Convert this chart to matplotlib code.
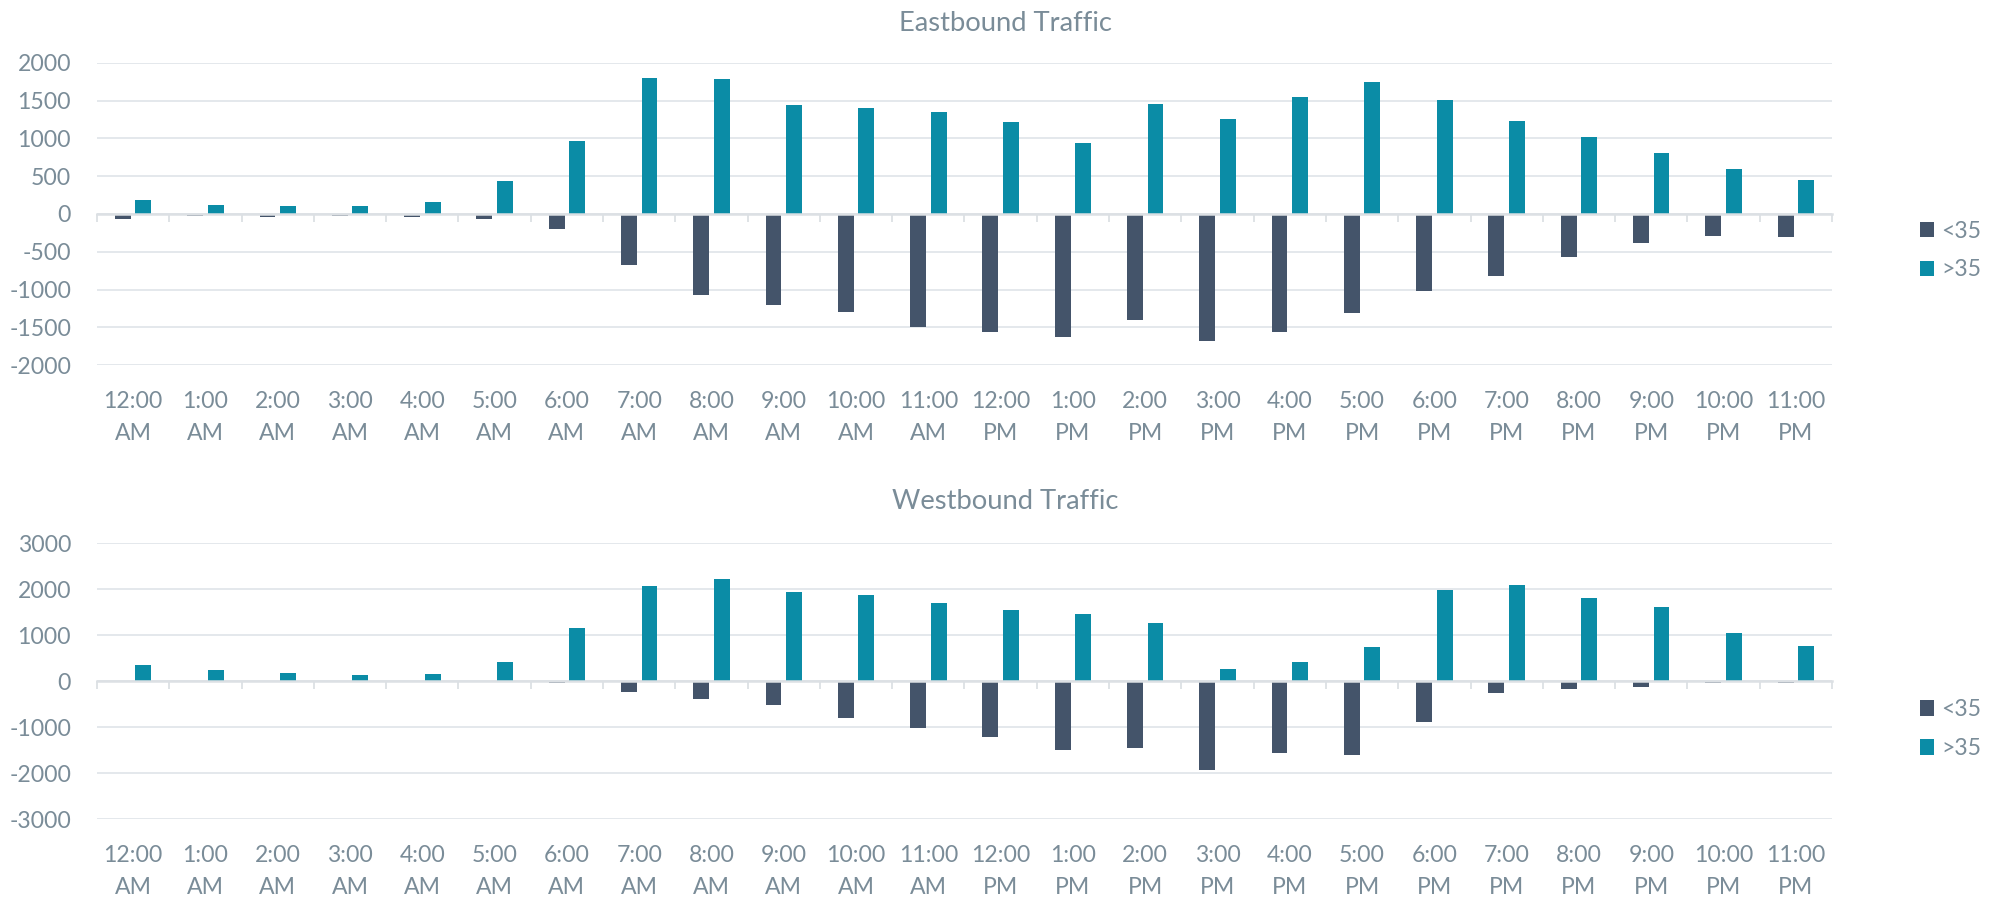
import matplotlib
matplotlib.use("Agg")
import matplotlib.pyplot as plt
from matplotlib.patches import Patch

plt.rcParams['font.family'] = ['Lato', 'DejaVu Sans']

# Hourly categories
hours = ["12:00\nAM", "1:00\nAM", "2:00\nAM", "3:00\nAM", "4:00\nAM", "5:00\nAM",
         "6:00\nAM", "7:00\nAM", "8:00\nAM", "9:00\nAM", "10:00\nAM", "11:00\nAM",
         "12:00\nPM", "1:00\nPM", "2:00\nPM", "3:00\nPM", "4:00\nPM", "5:00\nPM",
         "6:00\nPM", "7:00\nPM", "8:00\nPM", "9:00\nPM", "10:00\nPM", "11:00\nPM"]

series_names = ["<35", ">35"]

# Eastbound vehicle counts (below 35 shown as negative)
east_slow = [-60, -30, -40, -30, -40, -70, -200, -680, -1065, -1200, -1300, -1500,
             -1565, -1630, -1395, -1680, -1555, -1310, -1020, -815, -575, -380, -285, -310]
east_fast = [190, 120, 100, 100, 155, 440, 970, 1800, 1785, 1445, 1400, 1350,
             1210, 940, 1455, 1250, 1540, 1745, 1510, 1230, 1020, 800, 590, 445]

# Westbound vehicle counts
west_slow = [-15, -10, -5, -5, -5, -15, -30, -240, -390, -515, -790, -1005,
             -1200, -1485, -1455, -1925, -1565, -1600, -875, -245, -175, -130, -30, -30]
west_fast = [345, 245, 180, 130, 165, 420, 1150, 2070, 2225, 1940, 1870, 1710,
             1545, 1470, 1260, 270, 430, 745, 1980, 2095, 1810, 1615, 1050, 760]

SLOW_COLOR = "#44546A"
FAST_COLOR = "#0B8CA6"
TEXT_COLOR = "#7A8C98"
GRID_COLOR = "#E2E6EA"

W, H = 1996, 899
fig = plt.figure(figsize=(W / 100, H / 100), dpi=100)
fig.patch.set_facecolor("white")

left = 97 / W
width = (1832 - 97) / W


def panel(rect, slow, fast, lim, step, title, title_base_px, legend_center_px):
    ax = fig.add_axes(rect)
    n = len(hours)
    xs = list(range(n))
    bw = 0.22
    off = 0.142
    ax.bar([x - off for x in xs], slow, width=bw, color=SLOW_COLOR, zorder=2)
    ax.bar([x + off for x in xs], fast, width=bw, color=FAST_COLOR, zorder=2)

    ax.set_xlim(-0.5, n - 0.5)
    ax.set_ylim(-lim, lim)
    ax.set_yticks(range(-lim, lim + 1, step))
    ax.set_yticklabels([str(v) for v in range(-lim, lim + 1, step)])
    ax.tick_params(axis="y", length=0, pad=18.7, labelsize=16.6, labelcolor=TEXT_COLOR)

    ax.set_axisbelow(True)
    ax.yaxis.grid(True, color=GRID_COLOR, linewidth=1.3)
    for s in ["top", "right", "left"]:
        ax.spines[s].set_visible(False)
    ax.spines["bottom"].set_position(("data", 0))
    ax.spines["bottom"].set_color("#DCE0E4")
    ax.spines["bottom"].set_linewidth(1.8)
    ax.spines["bottom"].set_zorder(3)
    ax.set_xticks([x - 0.5 for x in range(n + 1)])
    ax.set_xticklabels([])
    ax.tick_params(axis="x", direction="out", length=5.8, width=1.3, color="#DCE0E4")

    # category labels sit below the plot area
    for x, lab in zip(xs, hours):
        top, bottom = lab.split("\n")
        ax.annotate(top, xy=(x, 0), xycoords=("data", "axes fraction"),
                    xytext=(0, -30.5), textcoords="offset points",
                    ha="center", va="baseline", fontsize=16.6, color=TEXT_COLOR)
        ax.annotate(bottom, xy=(x, 0), xycoords=("data", "axes fraction"),
                    xytext=(0, -53.6), textcoords="offset points",
                    ha="center", va="baseline", fontsize=16.6, color=TEXT_COLOR)

    fig.text(1005 / W, 1 - title_base_px / H, title, ha="center", va="baseline",
             fontsize=19.7, color=TEXT_COLOR)

    handles = [Patch(facecolor=SLOW_COLOR), Patch(facecolor=FAST_COLOR)]
    leg = fig.legend(handles, series_names, loc="center left",
                     bbox_to_anchor=(1919.5 / W, 1 - legend_center_px / H),
                     frameon=False, fontsize=16.6, handlelength=0.65, handleheight=0.65,
                     handletextpad=0.3, labelspacing=0.78, borderpad=0, borderaxespad=0)
    for t in leg.get_texts():
        t.set_color(TEXT_COLOR)
    return ax


panel([left, 1 - 365.3 / H, width, (365.3 - 62.7) / H], east_slow, east_fast,
      2000, 500, "Eastbound Traffic", 31, 250.5)
panel([left, 1 - 819.3 / H, width, (819.3 - 543.3) / H], west_slow, west_fast,
      3000, 1000, "Westbound Traffic", 509, 729)

fig.savefig("out.png", dpi=100, facecolor="white")
